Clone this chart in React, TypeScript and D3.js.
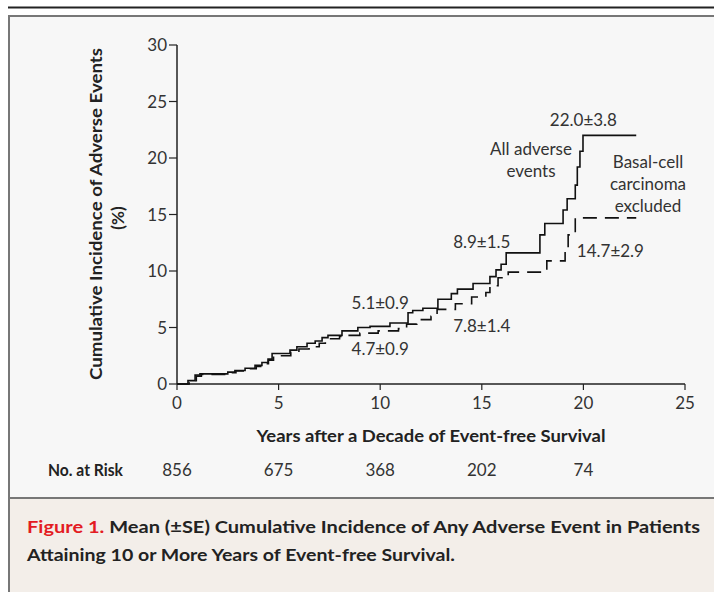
import React from 'react';
import * as d3 from 'd3';

const width = 714;
const height = 592;

// years after a decade of event-free survival, and cumulative incidence (%)
const allTimes = [0, 0.54, 0.89, 1.13, 2.5, 2.85, 3.35, 3.84, 4.18, 4.48, 4.68, 5.56, 5.9, 6.4, 6.8, 7.14, 7.43, 8.12, 8.9, 9.5, 10.48, 11.37, 11.6, 12.1, 12.84, 13.5, 13.8, 14.57, 15.4, 15.7, 15.95, 16.2, 17.86, 18.1, 19.0, 19.2, 19.6, 19.7, 19.83, 19.98, 22.6];
const allValues = [0, 0.3, 0.8, 0.9, 1.05, 1.2, 1.4, 1.65, 1.9, 2.2, 2.7, 3.0, 3.3, 3.6, 3.8, 4.1, 4.3, 4.7, 5.0, 5.1, 5.4, 6.3, 6.5, 6.7, 7.5, 8.0, 8.4, 8.9, 9.5, 10.1, 10.6, 11.6, 13.2, 14.2, 15.4, 16.4, 17.6, 19.2, 20.6, 22.0, 22.0];

const bccTimes = [0, 0.6, 0.95, 1.2, 2.5, 2.9, 3.4, 3.9, 4.2, 4.5, 4.75, 5.6, 6.0, 6.5, 7.0, 7.3, 8.0, 8.4, 9.0, 9.9, 10.9, 11.3, 11.8, 12.5, 12.8, 13.7, 14.5, 15.2, 15.4, 15.8, 16.3, 18.2, 19.1, 19.25, 19.6, 22.6];
const bccValues = [0, 0.3, 0.7, 0.85, 1.0, 1.15, 1.35, 1.55, 1.8, 2.1, 2.5, 2.8, 3.1, 3.3, 3.6, 4.0, 4.2, 4.3, 4.5, 4.7, 4.9, 5.3, 5.7, 6.0, 6.6, 7.1, 7.7, 8.1, 8.7, 9.4, 9.9, 10.9, 12.0, 13.2, 14.7, 14.7];

const xTicks = [0, 5, 10, 15, 20, 25];
const yTicks = [0, 5, 10, 15, 20, 25, 30];
const riskYears = [0, 5, 10, 15, 20];
const riskCounts = ['856', '675', '368', '202', '74'];

// value labels at a year on the axis
const labelYears = [10, 10, 15, 15, 20, 20];
const labelTexts = ['5.1±0.9', '4.7±0.9', '8.9±1.5', '7.8±1.4', '22.0±3.8', '14.7±2.9'];

const font = 'Lato, "Open Sans", sans-serif';
const ink = '#333';

const x = d3.scaleLinear().domain([0, 25]).range([177, 685]);
const y = d3.scaleLinear().domain([0, 30]).range([384, 45]);

const line = d3.line<[number, number]>()
    .x(d => x(d[0]))
    .y(d => y(d[1]))
    .curve(d3.curveStepAfter);

const allPath = line(allTimes.map((t, i) => [t, allValues[i]] as [number, number])) || '';
const bccPath = line(bccTimes.map((t, i) => [t, bccValues[i]] as [number, number])) || '';

// placement of each value label
const labelDx = [0, 0, 0, 0, 0, 27];
const labelY = [309, 355, 248, 332, 126, 257];

export default function App() {
    return (
        <svg width={width} height={height} style={{ position: 'absolute', left: 0, top: 0 }} fontFamily={font}>
            {/* frame */}
            <rect x={0} y={0} width={width} height={height} fill="#fff" />
            <line x1={8} x2={714} y1={7.5} y2={7.5} stroke="#222" strokeWidth={2} />
            <rect x={9} y={16} width={720} height={482} fill="#f7f7f7" stroke="#777" strokeWidth={2} />
            <rect x={9} y={498} width={720} height={110} fill="#f3eee9" stroke="#777" strokeWidth={2} />

            {/* axes */}
            <line x1={x(0)} x2={x(0)} y1={y(30)} y2={y(0)} stroke="#222" strokeWidth={1.5} />
            <line x1={x(0)} x2={x(25)} y1={y(0)} y2={y(0)} stroke="#222" strokeWidth={1.5} />
            {yTicks.map(t => (
                <g key={'y' + t}>
                    <line x1={x(0) - 8} x2={x(0)} y1={y(t)} y2={y(t)} stroke="#222" strokeWidth={1.2} />
                    <text x={x(0) - 10} y={y(t)} dy="0.36em" textAnchor="end" fontSize={17} fill={ink}>{t}</text>
                </g>
            ))}
            {xTicks.map(t => (
                <g key={'x' + t}>
                    <line x1={x(t)} x2={x(t)} y1={y(0)} y2={y(0) + 6} stroke="#222" strokeWidth={1.2} />
                    <text x={x(t)} y={409} textAnchor="middle" fontSize={17} fill={ink}>{t}</text>
                </g>
            ))}

            <text x={431} y={442} textAnchor="middle" fontSize={17} fontWeight="bold" fill="#222"
                textLength={349} lengthAdjust="spacingAndGlyphs">Years after a Decade of Event-free Survival</text>
            <g transform="translate(102,214) rotate(-90)">
                <text x={0} y={0} textAnchor="middle" fontSize={17} fontWeight="bold" fill="#222"
                    textLength={332} lengthAdjust="spacingAndGlyphs">Cumulative Incidence of Adverse Events</text>
                <text x={-4} y={22} textAnchor="middle" fontSize={17} fontWeight="bold" fill="#222">(%)</text>
            </g>

            {/* curves */}
            <path d={allPath} fill="none" stroke="#111" strokeWidth={1.6} />
            <path d={bccPath} fill="none" stroke="#111" strokeWidth={1.6} strokeDasharray="14 8" />

            {/* value labels */}
            {labelTexts.map((t, i) => (
                <text key={t} x={x(labelYears[i]) + labelDx[i]} y={labelY[i]} textAnchor="middle" fontSize={17} fill={ink}>{t}</text>
            ))}
            <text x={531} y={155} textAnchor="middle" fontSize={17} fill={ink}>All adverse</text>
            <text x={531} y={177} textAnchor="middle" fontSize={17} fill={ink}>events</text>
            <text x={648} y={168} textAnchor="middle" fontSize={17} fill={ink}>Basal-cell</text>
            <text x={648} y={190} textAnchor="middle" fontSize={17} fill={ink}>carcinoma</text>
            <text x={648} y={212} textAnchor="middle" fontSize={17} fill={ink}>excluded</text>

            {/* number at risk */}
            <text x={48} y={476} fontSize={17} fontWeight="bold" fill="#222" textLength={75} lengthAdjust="spacingAndGlyphs">No. at Risk</text>
            {riskCounts.map((c, i) => (
                <text key={'r' + i} x={x(riskYears[i])} y={476} textAnchor="middle" fontSize={17} fill={ink}>{c}</text>
            ))}

            {/* caption */}
            <text x={27} y={533} fontSize={17.5} fontWeight="bold" fill="#222" textLength={673} lengthAdjust="spacingAndGlyphs">
                <tspan fill="#e31b23">Figure 1.</tspan> Mean (±SE) Cumulative Incidence of Any Adverse Event in Patients
            </text>
            <text x={27} y={561} fontSize={17.5} fontWeight="bold" fill="#222" textLength={428} lengthAdjust="spacingAndGlyphs">
                Attaining 10 or More Years of Event-free Survival.
            </text>
        </svg>
    );
}
